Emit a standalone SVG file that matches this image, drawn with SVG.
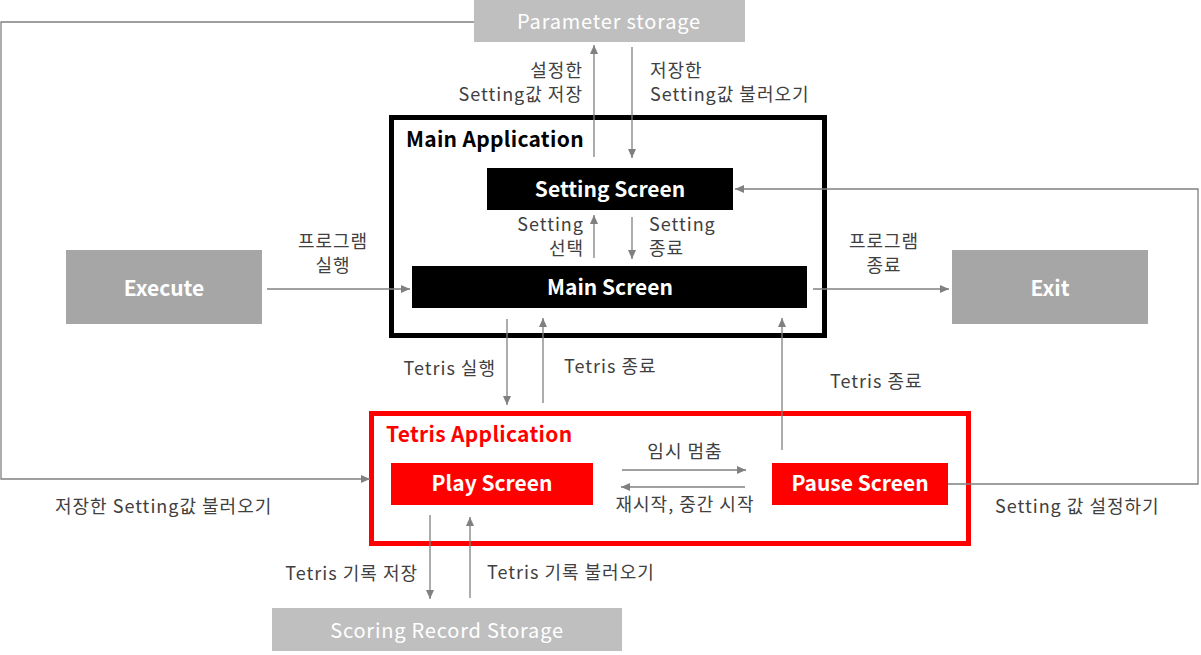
<svg xmlns="http://www.w3.org/2000/svg" width="1201" height="655" viewBox="0 0 1201 655">
<style>
text{font-family:"Noto Sans CJK KR","Noto Sans",sans-serif;}
.lbl{font-size:18px;fill:#404040;letter-spacing:1px;}
.bn{font-size:21px;font-weight:bold;fill:#ffffff;text-anchor:middle;}
.st{font-size:20px;fill:#ffffff;text-anchor:middle;letter-spacing:0.8px;}
.c{fill:none;stroke:#808080;stroke-width:1.3;}
</style>
<defs>
<marker id="ah" markerUnits="userSpaceOnUse" markerWidth="10" markerHeight="10" viewBox="0 0 10 10" refX="9" refY="5" orient="auto">
<path d="M0,1 L9,5 L0,9 Z" fill="#808080"/>
</marker>
</defs>
<rect x="0" y="0" width="1201" height="655" fill="#ffffff"/>

<g id="main-application">
<rect x="391.5" y="117.5" width="433" height="218" fill="none" stroke="#000" stroke-width="5"/>
<text x="406" y="147" style="font-size:21px;font-weight:bold;fill:#000;letter-spacing:0.3px">Main Application</text>
</g>
<g id="tetris-application">
<rect x="371.5" y="413.5" width="597" height="130" fill="none" stroke="#ff0000" stroke-width="5"/>
<text x="386" y="442" style="font-size:21px;font-weight:bold;fill:#ff0000;letter-spacing:0.3px">Tetris Application</text>
</g>

<g id="parameter-storage">
<rect x="474" y="0" width="271" height="42" fill="#bfbfbf"/>
<text class="st" x="609" y="29">Parameter storage</text>
</g>
<g id="setting-screen">
<rect x="487" y="168" width="246" height="42" fill="#000"/>
<text class="bn" x="610" y="197">Setting Screen</text>
</g>
<g id="main-screen">
<rect x="412" y="266" width="395" height="42" fill="#000"/>
<text class="bn" x="610" y="295">Main Screen</text>
</g>
<g id="execute">
<rect x="66" y="250" width="196" height="74" fill="#a6a6a6"/>
<text class="bn" x="164" y="296">Execute</text>
</g>
<g id="exit">
<rect x="952" y="250" width="196" height="74" fill="#a6a6a6"/>
<text class="bn" x="1050" y="296">Exit</text>
</g>
<g id="play-screen">
<rect x="391" y="463" width="202" height="42" fill="#ff0000"/>
<text class="bn" x="492" y="491">Play Screen</text>
</g>
<g id="pause-screen">
<rect x="772" y="463" width="176" height="42" fill="#ff0000"/>
<text class="bn" x="860" y="491">Pause Screen</text>
</g>
<g id="scoring-record-storage">
<rect x="272" y="608" width="350" height="43" fill="#bfbfbf"/>
<text class="st" x="447" y="638">Scoring Record Storage</text>
</g>

<g id="connectors">
<path class="c" d="M474,22 H1 V479 H370" marker-end="url(#ah)"/>
<path class="c" d="M594,157 V45" marker-end="url(#ah)"/>
<path class="c" d="M632,47 V158" marker-end="url(#ah)"/>
<path class="c" d="M594,258 V215" marker-end="url(#ah)"/>
<path class="c" d="M632,217 V259" marker-end="url(#ah)"/>
<path class="c" d="M267,289 H410" marker-end="url(#ah)"/>
<path class="c" d="M813,289 H949" marker-end="url(#ah)"/>
<path class="c" d="M948,484 H1198 V189 H735" marker-end="url(#ah)"/>
<path class="c" d="M507,319 V405" marker-end="url(#ah)"/>
<path class="c" d="M543,403 V318" marker-end="url(#ah)"/>
<path class="c" d="M782,450 V318" marker-end="url(#ah)"/>
<path class="c" d="M622,470 H746" marker-end="url(#ah)"/>
<path class="c" d="M745,487 H621" marker-end="url(#ah)"/>
<path class="c" d="M430,515 V599" marker-end="url(#ah)"/>
<path class="c" d="M470,598 V517" marker-end="url(#ah)"/>
</g>

<g id="labels">
<text class="lbl" x="583" y="77" text-anchor="end">설정한</text>
<text class="lbl" x="583" y="101" text-anchor="end">Setting값 저장</text>
<text class="lbl" x="650" y="77">저장한</text>
<text class="lbl" x="650" y="101">Setting값 불러오기</text>
<text class="lbl" x="584" y="231" text-anchor="end">Setting</text>
<text class="lbl" x="584" y="255" text-anchor="end">선택</text>
<text class="lbl" x="649" y="231">Setting</text>
<text class="lbl" x="649" y="255">종료</text>
<text class="lbl" x="333" y="248" text-anchor="middle">프로그램</text>
<text class="lbl" x="333" y="272" text-anchor="middle">실행</text>
<text class="lbl" x="884" y="248" text-anchor="middle">프로그램</text>
<text class="lbl" x="884" y="272" text-anchor="middle">종료</text>
<text class="lbl" x="496" y="375" text-anchor="end">Tetris 실행</text>
<text class="lbl" x="564" y="373">Tetris 종료</text>
<text class="lbl" x="830" y="388">Tetris 종료</text>
<text class="lbl" x="685" y="458" text-anchor="middle">임시 멈춤</text>
<text class="lbl" x="685" y="511" text-anchor="middle">재시작, 중간 시작</text>
<text class="lbl" x="55" y="513">저장한 Setting값 불러오기</text>
<text class="lbl" x="995" y="513">Setting 값 설정하기</text>
<text class="lbl" x="418" y="580" text-anchor="end">Tetris 기록 저장</text>
<text class="lbl" x="487" y="579">Tetris 기록 불러오기</text>
</g>
</svg>
